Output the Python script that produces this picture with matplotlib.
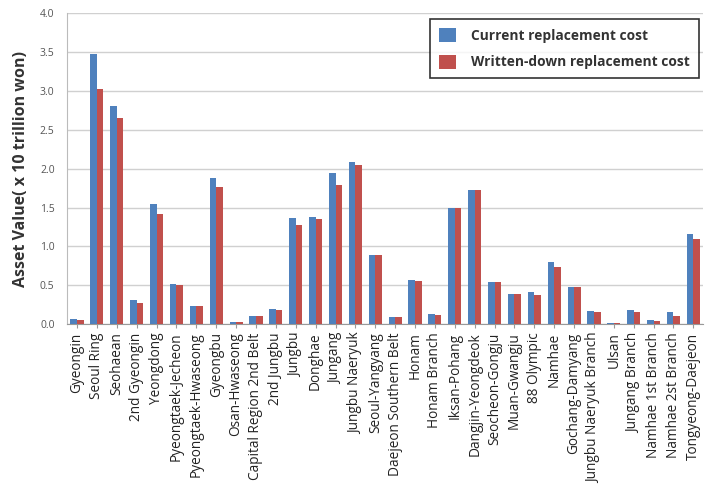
import numpy as np
import matplotlib.pyplot as plt

# Highway routes and asset values (x 10 trillion won)
routes = ['Gyeongin', 'Seoul Ring', 'Seohaean', '2nd Gyeongin', 'Yeongdong',
          'Pyeongtaek-Jecheon', 'Pyeongtaek-Hwaseong', 'Gyeongbu', 'Osan-Hwaseong',
          'Capital Region 2nd Belt', '2nd Jungbu', 'Jungbu', 'Donghae', 'Jungang',
          'Jungbu Naeryuk', 'Seoul-Yangyang', 'Daejeon Southern Belt', 'Honam',
          'Honam Branch', 'Iksan-Pohang', 'Dangjin-Yeongdeok', 'Seocheon-Gongju',
          'Muan-Gwangju', '88 Olympic', 'Namhae', 'Gochang-Damyang',
          'Jungbu Naeryuk Branch', 'Ulsan', 'Jungang Branch', 'Namhae 1st Branch',
          'Namhae 2st Branch', 'Tongyeong-Daejeon']

current_cost = [0.06, 3.47, 2.81, 0.31, 1.55, 0.52, 0.23, 1.88, 0.03, 0.11,
                0.19, 1.37, 1.38, 1.94, 2.09, 0.89, 0.09, 0.57, 0.13, 1.50,
                1.73, 0.54, 0.39, 0.41, 0.80, 0.48, 0.17, 0.02, 0.18, 0.05,
                0.15, 1.16]

written_down_cost = [0.05, 3.03, 2.65, 0.27, 1.42, 0.51, 0.23, 1.77, 0.03, 0.11,
                     0.18, 1.27, 1.35, 1.79, 2.05, 0.89, 0.09, 0.55, 0.12, 1.50,
                     1.73, 0.54, 0.39, 0.38, 0.73, 0.48, 0.16, 0.02, 0.15, 0.04,
                     0.10, 1.09]

yticks = [0.0, 0.5, 1.0, 1.5, 2.0, 2.5, 3.0, 3.5, 4.0]

plt.rcParams['font.family'] = ['Open Sans', 'DejaVu Sans']

fig = plt.figure(figsize=(7.14, 4.86), dpi=100)
ax = fig.add_axes([0.094, 0.333, 0.891, 0.64])

x = np.arange(len(routes))
w = 0.33
ax.bar(x - w / 2, current_cost, w, color='#4F81BD', label='Current replacement cost', zorder=3)
ax.bar(x + w / 2, written_down_cost, w, color='#C0504D', label='Written-down replacement cost', zorder=3)

ax.set_xlim(-0.5, len(routes) - 0.5)
ax.set_ylim(0, 4.0)
ax.set_yticks(yticks)
ax.set_yticklabels(['%.1f' % v for v in yticks], fontsize=7.5, color='#555555')
ax.set_xticks(x)
ax.set_xticklabels(routes, rotation=90, fontsize=9.8, color='#222222')
ax.tick_params(axis='y', length=0, pad=9)
ax.tick_params(axis='x', length=3, color='#999999', pad=3)

ax.grid(axis='y', color='#D0D0D0', linewidth=1, zorder=0)
for side in ['top', 'right']:
    ax.spines[side].set_visible(False)
ax.spines['left'].set_color('#BBBBBB')
ax.spines['bottom'].set_color('#999999')

ax.set_ylabel('Asset Value( x 10 trillion won)', fontsize=11.5, fontweight='bold',
              color='#333333', labelpad=8)

leg = ax.legend(loc='upper right', bbox_to_anchor=(0.999, 0.993), fontsize=9.9,
                frameon=True, fancybox=False, edgecolor='black', handlelength=1.2,
                handleheight=1.2, borderpad=0.65, labelspacing=0.85, handletextpad=1.1,
                borderaxespad=0.3)
leg.get_frame().set_linewidth(1.2)
for t in leg.get_texts():
    t.set_fontweight('bold')
    t.set_color('#333333')

fig.savefig('out.png', dpi=100)
